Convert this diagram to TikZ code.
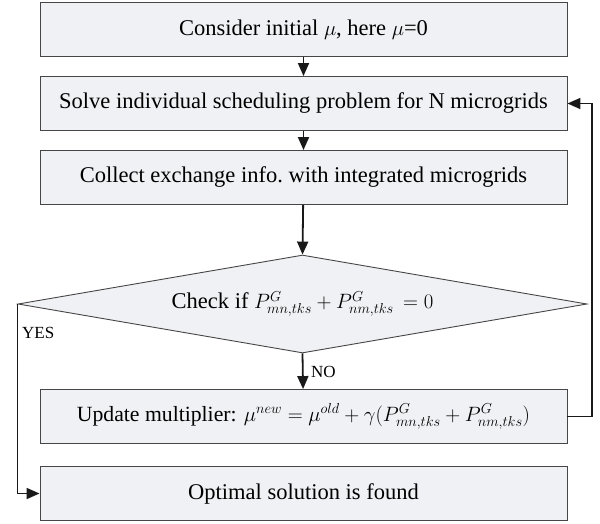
\documentclass[tikz,border=0pt]{standalone}
\usepackage{fontspec}
\setmainfont{Liberation Serif}
\usetikzlibrary{shapes.geometric,arrows.meta}
\definecolor{boxfill}{RGB}{240,241,244}
\definecolor{boxline}{RGB}{70,70,70}
\begin{document}
\begin{tikzpicture}[x=1pt,y=-1pt,
  procbox/.style={draw=boxline,fill=boxfill,line width=0.9pt,minimum width=527pt,minimum height=54pt,inner sep=0pt,font=\fontsize{22.5}{27}\selectfont},
  decbox/.style={draw=boxline,fill=boxfill,line width=0.9pt,shape=diamond,shape aspect=5.8,minimum width=569pt,minimum height=98pt,inner sep=0pt,font=\fontsize{22.5}{27}\selectfont},
  flow/.style={line width=1.8pt,black!90,-{Triangle[width=11pt,length=13pt]}},
  lbl/.style={font=\fontsize{17}{20}\selectfont,inner sep=0pt}]
\useasboundingbox (0,0) rectangle (600,523);
\node[procbox] (init) at (303.5,29.5) {Consider initial $\mu$, here $\mu$=0};
\node[procbox] (solve) at (303.5,103.5) {Solve individual scheduling problem for N microgrids};
\node[procbox] (collect) at (303.5,177.5) {Collect exchange info.\ with integrated microgrids};
\node[decbox] (check) at (302.5,304) {Check if $P^{G}_{mn,tks}+P^{G}_{nm,tks}\,=0$};
\node[procbox,font=\fontsize{21.7}{26}\selectfont] (update) at (303.5,416.5) {Update multiplier: $\mu^{new}=\mu^{old}+\gamma\bigl(P^{G}_{mn,tks}+P^{G}_{nm,tks}\bigr)$};
\node[procbox] (opt) at (303.5,493.5) {Optimal solution is found};
\coordinate (fbr) at (592,416.5);
\coordinate (fbt) at (592,103.5);
\coordinate (yb) at (20,493.5);
\draw[flow] (init) -- (solve);
\draw[flow] (solve) -- (collect);
\draw[flow] (collect) -- (check.north);
\draw[flow] (check.south) -- (update);
\draw[flow] (update.east) -- (fbr) -- (fbt) -- (solve.east);
\draw[flow] (check.west) -- (check.west |- yb) -- (opt.west);
\node[lbl,anchor=west] (yes) at (22,333) {YES};
\node[lbl,anchor=west] (no) at (311,372) {NO};
\end{tikzpicture}
\end{document}
